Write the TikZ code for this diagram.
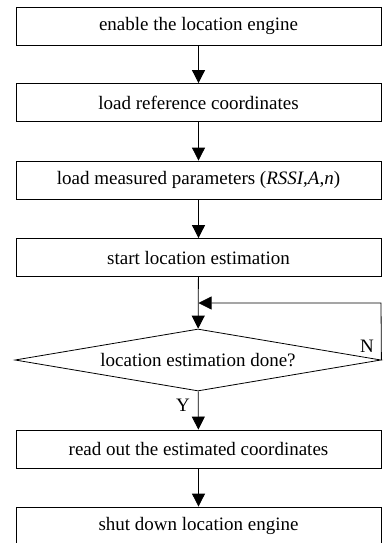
\documentclass[tikz,border=0pt]{standalone}
\usepackage{fontspec}
\setmainfont{Liberation Serif}
\usetikzlibrary{shapes.geometric,arrows.meta}
\tikzset{
  procbox/.style={draw, line width=0.8pt, minimum width=365pt, minimum height=38pt, inner sep=0pt, font=\fontsize{19}{22}\selectfont},
  decbox/.style={draw, diamond, aspect=5.9, line width=0.8pt, minimum width=366pt, minimum height=62pt, inner sep=0pt, font=\fontsize{19}{22}\selectfont},
  flow/.style={line width=0.8pt, -{Triangle[length=13pt,width=13pt]}},
  lbl/.style={font=\fontsize{19}{22}\selectfont, inner sep=0pt}
}
\begin{document}
\begin{tikzpicture}[x=1pt,y=-1pt]
\useasboundingbox (0,0) rectangle (388,543);
\node[procbox] (b1) at (198.5,26) {enable the location engine};
\node[procbox] (b2) at (198.5,102.5) {load reference coordinates};
\node[procbox] (b3) at (198.5,180) {load measured parameters (\textit{RSSI},\textit{A},\textit{n})};
\node[procbox] (b4) at (198.5,257.5) {start location estimation};
\node[decbox] (d) at (198,360) {location estimation done?};
\node[procbox] (b5) at (198.5,449) {read out the estimated coordinates};
\node[procbox] (b6) at (198.5,526) {shut down location engine};
\coordinate (lc) at (381,303);
\coordinate (lj) at (198.5,303);
\draw[flow] (b1) -- (b2);
\draw[flow] (b2) -- (b3);
\draw[flow] (b3) -- (b4);
\draw[flow] (b4) -- (d);
\draw[flow] (d.east) -- (lc) -- (lj);
\draw[flow] (d) -- (b5);
\draw[flow] (b5) -- (b6);
\node[lbl] (nl) at (367,346) {N};
\node[lbl] (yl) at (183,405) {Y};
\end{tikzpicture}
\end{document}
